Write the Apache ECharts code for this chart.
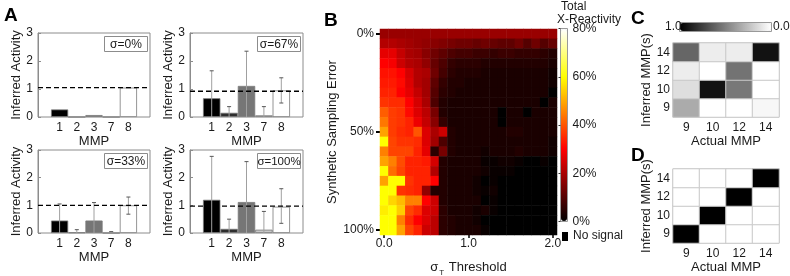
<!DOCTYPE html>
<html><head><meta charset="utf-8">
<script src="https://cdn.jsdelivr.net/npm/echarts@6/dist/echarts.min.js"></script>
<style>html,body{margin:0;padding:0;background:#fff}#c{width:790px;height:276px}</style>
</head><body><div id="c"></div>
<script>
// ---------- DATA ----------
const mmpLabels = ['1','2','3','7','8'];
const sigmaNames = ['σ=0%','σ=67%','σ=33%','σ=100%'];
// Panel A (top-left σ=0%)
const actS0 = [0.27, 0, 0.07, 0, 1.05];
const dashS0 = 1.05;
// top-right σ=67%
const actS67 = [0.67, 0.15, 1.11, 0.06, 0.95];
const loS67  = [0, 0, 0, 0, 0.5];
const hiS67  = [1.65, 0.37, 2.35, 0.37, 1.4];
const dashS67 = 0.92;
// bottom-left σ=33%
const actS33 = [0.45, 0.02, 0.45, 0, 1.0];
const loS33  = [0, 0, 0, 0, 0.68];
const hiS33  = [1.05, 0.12, 1.1, 0.05, 1.3];
const dashS33 = 1.0;
// bottom-right σ=100%
const actS100 = [1.2, 0.15, 1.12, 0.12, 0.95];
const loS100  = [0, 0, 0, 0, 0.35];
const hiS100  = [2.77, 0.5, 2.58, 0.78, 1.6];
const dashS100 = 0.97;

// Panel B
const thresholds = ['0.0','0.1','0.2','0.3','0.4','0.5','0.6','0.7','0.8','0.9','1.0','1.1','1.2','1.3','1.4','1.5','1.6','1.7','1.8','1.9','2.0'];
const samplingErr = ['0%','5%','10%','15%','20%','25%','30%','35%','40%','45%','50%','55%','60%','65%','70%','75%','80%','85%','90%','95%','100%'];
const xReact = [
 [18,18,18,18,18,18,18,18,18,18,18,18,18,18,18,18,18,18,18,18,18],
 [21,21,20,19,18,17,16,15,14,13,13,12,13,12,11,11,13,10,13,10,12],
 [27,27,23,20,19,16,13,11,9,8,8,7,7,6,7,7,6,6,6,5,4],
 [30,29,24,21,20,17,12,9,6,5,5,5,4,4,4,4,4,4,4,4,3],
 [32,32,30,25,21,20,13,8,5,4,4,4,3,3,3,3,3,3,3,3,2],
 [33,33,31,26,21,19,11,6,4,4,3,3,3,3,3,3,3,3,3,3,2],
 [34,34,30,27,23,19,10,5,4,3,3,3,3,3,3,3,3,3,3,3,0],
 [36,35,35,30,25,20,9,4,3,3,3,3,3,3,3,3,3,3,3,0,3],
 [41,37,36,31,26,22,14,4,3,3,3,3,3,3,0,3,3,0,3,3,3],
 [44,37,36,34,28,23,16,6,3,3,3,3,3,3,0,3,3,3,3,3,3],
 [49,37,35,34,40,26,20,24,4,3,3,3,3,3,3,4,4,3,3,3,3],
 [60,38,36,36,35,26,19,9,4,3,3,3,3,3,3,3,3,3,3,3,2],
 [45,38,38,38,34,27,5,14,4,3,3,3,2,3,3,3,4,3,3,3,2],
 [49,45,39,34,34,33,25,4,3,3,3,3,1,1,2,2,1,0,0,1,0],
 [60,43,38,34,34,34,21,4,3,3,3,3,2,1,1,1,0,0,0,0,0],
 [49,60,60,36,34,34,30,4,3,3,3,2,0,1,0,0,0,0,0,0,0],
 [60,60,36,35,34,17,4,4,3,3,3,2,1,2,0,0,0,0,0,0,0],
 [60,55,52,45,45,30,24,4,3,3,3,3,0,1,0,0,0,0,0,0,0],
 [58,60,54,38,35,26,24,5,3,3,3,2,3,1,0,0,0,0,0,0,0],
 [60,60,45,35,30,26,22,5,4,3,3,2,0,0,0,0,0,0,0,0,0],
 [60,60,49,38,34,24,22,5,4,3,3,3,1,0,0,0,0,0,0,0,0]
];

// Panels C, D
const actualMMP = ['9','10','12','14'];
const inferredMMP = ['9','10','12','14'];
// rows = inferred (9,10,12,14), cols = actual (9,10,12,14)
const confC = [
 [0.33, 0, 0, 0.03],
 [0.13, 0.93, 0.53, 0],
 [0.07, 0, 0.55, 0],
 [0.6, 0.07, 0.07, 0.93]
];
const confD = [
 [1, 0, 0, 0],
 [0, 1, 0, 0],
 [0, 0, 1, 0],
 [0, 0, 0, 1]
];

// ---------- STYLE ----------
const FF = '"Liberation Sans", Arial, Helvetica, sans-serif';
const TXT = '#1a1a1a';
const BOX = '#8c8c8c';
const barFill = ['#000000','#2e2e2e','#767676','#c8c8c8','#ffffff'];
const hotStops = ['#000000','#550000','#aa0000','#ff0000','#ff5500','#ffaa00','#ffff00','#ffff80','#ffffff'];

const grids=[], xAxis=[], yAxis=[], series=[], graphic=[];
const addGrid = g => grids.push(Object.assign({outerBoundsMode:'none', containLabel:false}, g))-1;

function renderErr(params, api){
  const x = api.value(0), lo = api.value(1), hi = api.value(2);
  const a = api.coord([x, lo]), b = api.coord([x, hi]);
  const c = 2;
  const ch = [
    {type:'line', shape:{x1:a[0],y1:a[1],x2:b[0],y2:b[1]}, style:{stroke:'#a0a0a0', lineWidth:1}},
    {type:'line', shape:{x1:b[0]-c,y1:b[1],x2:b[0]+c,y2:b[1]}, style:{stroke:'#555', lineWidth:1}}
  ];
  if (lo > 0) ch.push({type:'line', shape:{x1:a[0]-c,y1:a[1],x2:a[0]+c,y2:a[1]}, style:{stroke:'#555', lineWidth:1}});
  return {type:'group', children:ch};
}

const panelsA = [
  {name:sigmaNames[0], vals:actS0, lo:null, hi:null, dash:dashS0, left:38, top:33, w:112, h:84},
  {name:sigmaNames[1], vals:actS67, lo:loS67, hi:hiS67, dash:dashS67, left:190, top:33, w:113, h:84},
  {name:sigmaNames[2], vals:actS33, lo:loS33, hi:hiS33, dash:dashS33, left:38, top:150, w:112, h:83},
  {name:sigmaNames[3], vals:actS100, lo:loS100, hi:hiS100, dash:dashS100, left:190, top:150, w:113, h:83}
];

panelsA.forEach(p => {
  const gf = addGrid({left:p.left, top:p.top, width:p.w, height:p.h, show:true, borderColor:BOX, borderWidth:1, backgroundColor:'#fff'});
  const xf = xAxis.push({gridIndex:gf, type:'value', min:0, max:1, show:false})-1;
  const yf = yAxis.push({gridIndex:gf, type:'value', min:0, max:3, interval:1,
    axisLine:{show:true, lineStyle:{color:BOX}}, axisTick:{show:true, inside:true, length:3, lineStyle:{color:BOX}},
    splitLine:{show:false}, axisLabel:{fontSize:12, color:TXT, margin:5, fontFamily:FF},
    name:'Inferred Activity', nameLocation:'middle', nameGap:12, nameTextStyle:{fontSize:13, color:TXT, fontFamily:FF}})-1;
  const gd = addGrid({left:p.left+13, top:p.top, width:p.w-26, height:p.h});
  const xd = xAxis.push({gridIndex:gd, type:'category', data:mmpLabels, axisLine:{show:false}, axisTick:{show:false},
    axisLabel:{fontSize:12, color:TXT, margin:5, fontFamily:FF},
    name:'MMP', nameLocation:'middle', nameGap:17, nameTextStyle:{fontSize:13, color:TXT, fontFamily:FF}})-1;
  const yd = yAxis.push({gridIndex:gd, type:'value', min:0, max:3, show:false})-1;
  series.push({type:'bar', xAxisIndex:xd, yAxisIndex:yd, barWidth:'100%', z:2,
    data:p.vals.map((v,i)=>({value:v, itemStyle:{color:barFill[i]}})),
    itemStyle:{borderColor:'#7a7a7a', borderWidth:0.8}});
  if (p.hi) series.push({type:'custom', xAxisIndex:xd, yAxisIndex:yd, z:3, renderItem:renderErr,
    data:p.hi.map((h,i)=>[i, p.lo[i], h])});
  series.push({type:'line', xAxisIndex:xf, yAxisIndex:yf, symbol:'none', z:4, silent:true,
    data:[[0,p.dash],[1,p.dash]], lineStyle:{color:'#000', width:1.3, type:[5,3]}});
  graphic.push({type:'group', left:p.left+p.w-46, top:p.top+3, children:[
    {type:'rect', shape:{x:0,y:0,width:43,height:15}, style:{fill:'#fff', stroke:BOX, lineWidth:1}},
    {type:'text', x:21.5, y:8, style:{text:p.name, fontSize:p.name.length > 5 ? 11.5 : 12, fill:TXT, fontFamily:FF, align:'center', verticalAlign:'middle', textAlign:'center', textVerticalAlign:'middle'}}
  ]});
});

// ---------- Panel B heatmap ----------
const gB = addGrid({left:380, top:29, width:177, height:206});
const xB = xAxis.push({gridIndex:gB, type:'category', data:thresholds,
  axisLine:{show:false}, axisTick:{show:true, interval:9, alignWithLabel:true, length:3, lineStyle:{color:'#000', width:1.5}},
  axisLabel:{interval:9, fontSize:12, color:TXT, margin:3, fontFamily:FF},
  name:'{s|σ}{t|T}{s| Threshold}', nameLocation:'middle', nameGap:26,
  nameTextStyle:{rich:{s:{fontSize:13, color:TXT, fontFamily:FF, verticalAlign:'top', lineHeight:15}, t:{fontSize:8, color:TXT, fontFamily:FF, verticalAlign:'top', lineHeight:8, padding:[8,1,0,1]}}}})-1;
const yB = yAxis.push({gridIndex:gB, type:'category', data:samplingErr, inverse:true,
  axisLine:{show:false}, axisTick:{show:true, interval:9, alignWithLabel:true, length:4, lineStyle:{color:'#000', width:2}},
  axisLabel:{interval:9, fontSize:12, color:TXT, margin:6, fontFamily:FF},
  name:'Synthetic Sampling Error', nameLocation:'middle', nameGap:32, nameTextStyle:{fontSize:13, color:TXT, fontFamily:FF}})-1;
const heatData = [];
xReact.forEach((row, r) => row.forEach((v, c) => heatData.push([c, r, v])));
const sB = series.push({type:'heatmap', xAxisIndex:xB, yAxisIndex:yB, data:heatData, itemStyle:{borderWidth:0}})-1;

// colorbar axis for B
const gCB = addGrid({left:560.5, top:28.5, width:7, height:193, show:true, borderColor:'#999', borderWidth:1, backgroundColor:'transparent'});
xAxis.push({gridIndex:gCB, type:'value', show:false, min:0, max:1});
yAxis.push({gridIndex:gCB, type:'value', min:0, max:80, interval:20, position:'right',
  axisLine:{show:false}, axisTick:{show:true, inside:true, length:2, lineStyle:{color:'#333'}}, splitLine:{show:false},
  axisLabel:{formatter:'{value}%', fontSize:12, color:TXT, margin:5, fontFamily:FF}});

// ---------- Panels C & D ----------
function confPanel(mat, top, height){
  const g = addGrid({left:673, top:top, width:106, height:height, show:true, borderColor:'#c8c8c8', borderWidth:1});
  const xi = xAxis.push({gridIndex:g, type:'category', data:actualMMP, axisLine:{show:false}, axisTick:{show:false},
    axisLabel:{fontSize:12, color:TXT, margin:5, fontFamily:FF},
    name:'Actual MMP', nameLocation:'middle', nameGap:17, nameTextStyle:{fontSize:13, color:TXT, fontFamily:FF}})-1;
  const yi = yAxis.push({gridIndex:g, type:'category', data:inferredMMP, axisLine:{show:false}, axisTick:{show:false},
    axisLabel:{fontSize:12, color:TXT, margin:3, fontFamily:FF},
    name:'Inferred MMP(s)', nameLocation:'middle', nameGap:17, nameTextStyle:{fontSize:13, color:TXT, fontFamily:FF}})-1;
  const d = [];
  mat.forEach((row, r) => row.forEach((v, c) => d.push([c, r, v])));
  return series.push({type:'heatmap', xAxisIndex:xi, yAxisIndex:yi, data:d, itemStyle:{borderColor:'#c8c8c8', borderWidth:1}})-1;
}
const sC = confPanel(confC, 43, 74);
const sD = confPanel(confD, 169, 74);

// colorbar border for C
const gCC = addGrid({left:679.5, top:22.5, width:92, height:9, show:true, borderColor:'#999', borderWidth:1, backgroundColor:'transparent'});
xAxis.push({gridIndex:gCC, type:'value', show:false, min:0, max:1});
yAxis.push({gridIndex:gCC, type:'value', show:false, min:0, max:1});

// ---------- text / legend extras ----------
const T = (text, x, y, o={}) => ({type:'text', x, y, z:10, style:Object.assign({text, fontSize:12, fill:TXT, fontFamily:FF}, o)});
graphic.push(T('A', 4, 6, {fontSize:19, fontWeight:'bold', fill:'#000'}));
graphic.push(T('B', 324, 11, {fontSize:19, fontWeight:'bold', fill:'#000'}));
graphic.push(T('C', 631, 9, {fontSize:19, fontWeight:'bold', fill:'#000'}));
graphic.push(T('D', 631, 146, {fontSize:19, fontWeight:'bold', fill:'#000'}));
graphic.push(T('Total', 561, 1));
graphic.push(T('X-Reactivity', 557, 14));
graphic.push({type:'rect', z:10, shape:{x:562, y:232, width:6, height:9}, style:{fill:'#000'}});
graphic.push(T('No signal', 573, 230));
graphic.push(T('1.0', 665, 21));
graphic.push(T('0.0', 773, 21));

const option = {
  animation:false,
  textStyle:{fontFamily:FF},
  grid:grids, xAxis, yAxis, series, graphic,
  visualMap:[
    {type:'continuous', min:0, max:80, seriesIndex:[sB], inRange:{color:hotStops},
     orient:'vertical', left:561, top:29, itemWidth:6, itemHeight:192, calculable:false, hoverLink:false, text:null, padding:0, showLabel:false},
    {type:'continuous', min:0, max:1, seriesIndex:[sC, sD], inRange:{color:['#ffffff','#000000']},
     orient:'horizontal', inverse:true, left:680, top:23, itemWidth:8, itemHeight:91, calculable:false, hoverLink:false, text:null, padding:0, showLabel:false}
  ]
};
const chart = echarts.init(document.getElementById('c'), null, {renderer:'canvas'});
chart.setOption(option);
</script></body></html>
